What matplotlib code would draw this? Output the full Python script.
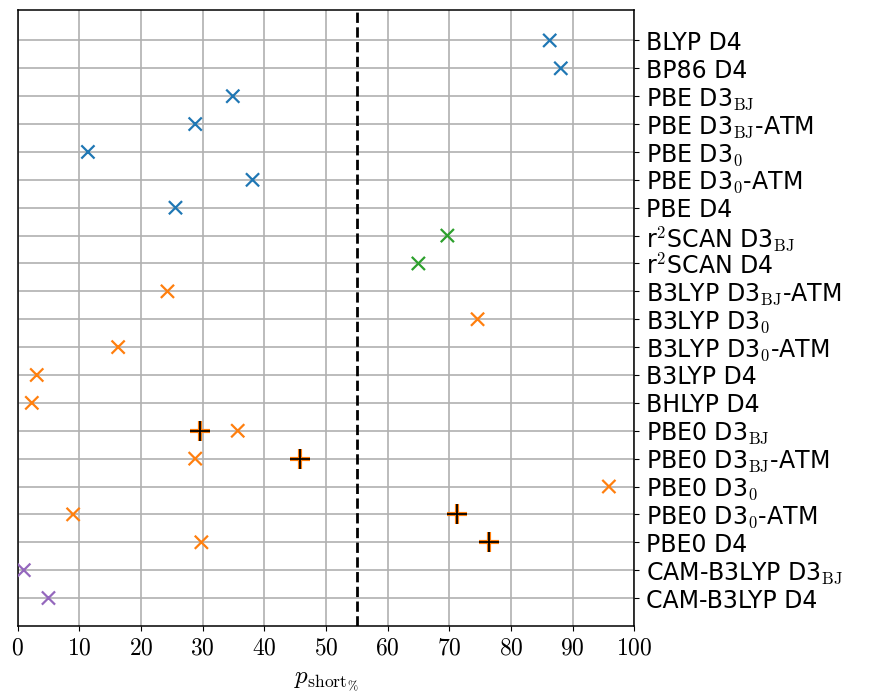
import matplotlib
matplotlib.use("Agg")
import matplotlib.pyplot as plt
import numpy as np

plt.rcParams['mathtext.fontset'] = 'cm'
plt.rcParams['font.family'] = ['DejaVu Sans']

labels = [
    "BLYP D4", "BP86 D4", r"PBE D3$_\mathrm{BJ}$", r"PBE D3$_\mathrm{BJ}$-ATM",
    r"PBE D3$_\mathrm{0}$", r"PBE D3$_\mathrm{0}$-ATM", "PBE D4",
    r"r$^\mathrm{2}$SCAN D3$_\mathrm{BJ}$", r"r$^\mathrm{2}$SCAN D4",
    r"B3LYP D3$_\mathrm{BJ}$-ATM", r"B3LYP D3$_\mathrm{0}$", r"B3LYP D3$_\mathrm{0}$-ATM",
    "B3LYP D4", "BHLYP D4", r"PBE0 D3$_\mathrm{BJ}$", r"PBE0 D3$_\mathrm{BJ}$-ATM",
    r"PBE0 D3$_\mathrm{0}$", r"PBE0 D3$_\mathrm{0}$-ATM", "PBE0 D4",
    r"CAM-B3LYP D3$_\mathrm{BJ}$", "CAM-B3LYP D4",
]
values = [86.3, 88.1, 34.9, 28.8, 11.4, 38.1, 25.6, 69.7, 65.0, 24.3, 74.6, 16.3,
          3.1, 2.3, 35.7, 28.8, 95.9, 9.0, 29.8, 1.0, 5.0]
groups = ["GGA"] * 7 + ["mGGA"] * 2 + ["hybrid"] * 10 + ["RSH"] * 2
group_colors = {"GGA": "tab:blue", "mGGA": "tab:green", "hybrid": "tab:orange", "RSH": "tab:purple"}

plus_labels = [r"PBE0 D3$_\mathrm{BJ}$", r"PBE0 D3$_\mathrm{BJ}$-ATM",
               r"PBE0 D3$_\mathrm{0}$-ATM", "PBE0 D4"]
plus_values = [29.5, 45.8, 71.2, 76.4]

threshold = 55

fig = plt.figure(figsize=(8.82, 6.97), dpi=100)
ax = fig.add_axes([0.02, 0.102, 0.699, 0.884])

n = len(labels)
ypos = {lab: n - 1 - i for i, lab in enumerate(labels)}
ys = [ypos[l] for l in labels]
cols = [group_colors[g] for g in groups]
ax.scatter(values, ys, marker='x', c=cols, s=90, linewidths=1.6, zorder=3)

py = [ypos[l] for l in plus_labels]
ax.scatter(plus_values, py, marker='+', c='tab:orange', s=220, linewidths=3.0, zorder=4)
ax.scatter(plus_values, py, marker='+', c='black', s=190, linewidths=1.3, zorder=5)

ax.axvline(threshold, color='black', linestyle='--', linewidth=2, zorder=2)

ax.set_xlim(0, 100)
ax.set_ylim(-1, n + 0.1)
ax.set_xticks(np.arange(0, 101, 10))
ax.set_xticklabels([f"${v}$" for v in range(0, 101, 10)], fontsize=17)
ax.set_yticks(ys)
ax.set_yticklabels(labels, fontsize=17)
ax.yaxis.tick_right()
ax.tick_params(axis='y', pad=5)
ax.grid(True, color='#b0b0b0', linewidth=1.2, zorder=0)
ax.set_axisbelow(True)
ax.set_xlabel(r"$p_{\mathrm{short}_{\%}}$", fontsize=18, labelpad=7)
for s in ax.spines.values():
    s.set_linewidth(1.1)

fig.savefig("out.png", dpi=100)
